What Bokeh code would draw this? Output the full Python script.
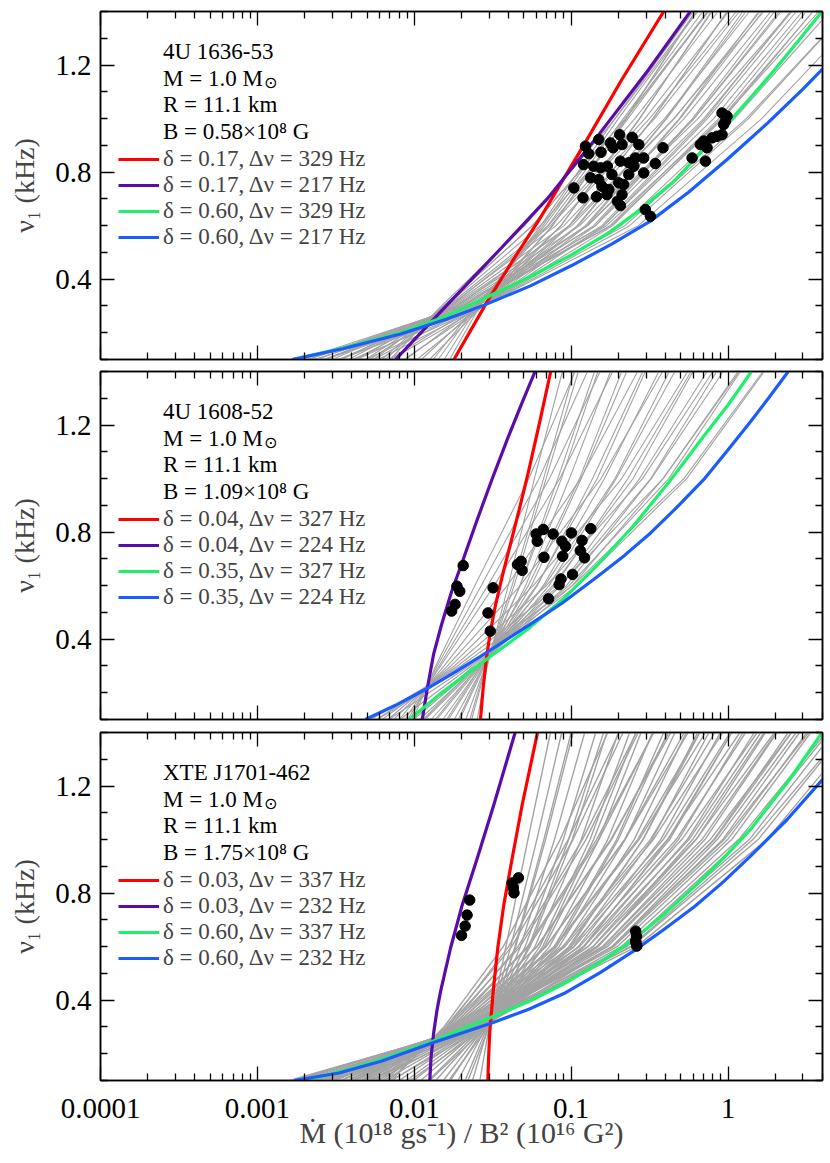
from bokeh.plotting import figure
from bokeh.models import (Range1d, FixedTicker, LinearAxis, LogAxis, Label, Legend,
                          LegendItem, CustomJSTickFormatter)
from bokeh.layouts import column
from bokeh.embed import file_html
from bokeh.resources import INLINE

# ---------------- axes / ticks ----------------
X_RANGE = (1e-4, 4.0)
Y_RANGE = (0.1, 1.4)
X_TICKS = [0.0001, 0.001, 0.01, 0.1, 1.0]
X_MINOR_TICKS = [0.0002, 0.0003, 0.0004, 0.0005, 0.0006, 0.0007, 0.0008, 0.0009,
                 0.002, 0.003, 0.004, 0.005, 0.006, 0.007, 0.008, 0.009,
                 0.02, 0.03, 0.04, 0.05, 0.06, 0.07, 0.08, 0.09,
                 0.2, 0.3, 0.4, 0.5, 0.6, 0.7, 0.8, 0.9, 2.0, 3.0, 4.0]
Y_TICKS = [0.4, 0.8, 1.2]
Y_MINOR_TICKS = [0.1, 0.2, 0.3, 0.5, 0.6, 0.7, 0.9, 1.0, 1.1, 1.3, 1.4]
X_LABEL = "Ṁ (10¹⁸ gs⁻¹) / B² (10¹⁶ G²)"
Y_LABEL = "ν₁ (kHz)"

# ---------------- panel 1 : 4U 1636-53 ----------------
P1_INFO = ["4U 1636-53", "M = 1.0 M", "R = 11.1 km", "B = 0.58×10⁸ G"]
P1_LEGEND = ["δ = 0.17, Δν = 329 Hz", "δ = 0.17, Δν = 217 Hz",
             "δ = 0.60, Δν = 329 Hz", "δ = 0.60, Δν = 217 Hz"]
RED1_X = [0.0179, 0.0294, 0.0430, 0.0637, 0.120, 0.21, 0.389]
RED1_Y = [0.10, 0.32, 0.475, 0.63, 0.90, 1.145, 1.40]
PUR1_X = [0.0076, 0.0172, 0.0350, 0.0703, 0.150, 0.300, 0.575]
PUR1_Y = [0.10, 0.32, 0.51, 0.70, 0.94, 1.17, 1.40]
GRN1_X = [0.00167, 0.0035, 0.0082, 0.016, 0.0299, 0.055, 0.100, 0.17, 0.276, 0.45,
          0.70, 1.06, 1.5, 2.0, 2.8, 3.97]
GRN1_Y = [0.100, 0.143, 0.200, 0.262, 0.336, 0.410, 0.490, 0.570, 0.660, 0.765,
          0.884, 1.000, 1.100, 1.185, 1.29, 1.40]
BLU1_X = [0.00167, 0.0035, 0.0082, 0.016, 0.0284, 0.055, 0.100, 0.18, 0.32, 0.56,
          0.986, 1.8, 3.0, 4.0]
BLU1_Y = [0.100, 0.140, 0.195, 0.250, 0.305, 0.375, 0.450, 0.530, 0.617, 0.725,
          0.847, 0.985, 1.110, 1.185]
DOT1_X = [0.1233, 0.150, 0.1294, 0.155, 0.204, 0.245, 0.178, 0.185, 0.211, 0.270, 0.385,
          0.120, 0.139, 0.154, 0.170, 0.206, 0.233, 0.257, 0.290, 0.251, 0.344,
          0.133, 0.150, 0.182, 0.233, 0.290, 0.104, 0.157, 0.174, 0.201, 0.216,
          0.119, 0.145, 0.169, 0.211, 0.197, 0.206, 0.297, 0.320,
          0.590, 0.717, 0.666, 0.700, 0.735, 0.791, 0.851, 0.916, 0.938, 0.916, 0.985, 0.962]
DOT1_Y = [0.897, 0.922, 0.869, 0.874, 0.940, 0.930, 0.909, 0.891, 0.903, 0.903, 0.891,
          0.828, 0.822, 0.816, 0.822, 0.841, 0.835, 0.853, 0.853, 0.822, 0.832,
          0.779, 0.772, 0.791, 0.791, 0.797, 0.741, 0.747, 0.735, 0.760, 0.754,
          0.704, 0.708, 0.716, 0.716, 0.691, 0.675, 0.660, 0.635,
          0.853, 0.841, 0.903, 0.916, 0.891, 0.928, 0.934, 0.940, 0.978, 1.021, 1.009, 0.990]

# grey model curves: x read at the frequency levels GREY_NU
GREY_NU = [0.1, 0.3, 0.6, 1.0, 1.4]
GREY1_X = [
    [0.0125, 0.0273, 0.0760, 0.223, 0.618], [0.0104, 0.0274, 0.0861, 0.272, 0.791],
    [0.0086, 0.0274, 0.0977, 0.332, 0.989], [0.0071, 0.0274, 0.111, 0.406, 1.30],
    [0.0059, 0.0274, 0.126, 0.495, 1.66], [0.0049, 0.0274, 0.143, 0.605, 2.12],
    [0.0040, 0.0274, 0.162, 0.740, 2.72], [0.0033, 0.0274, 0.184, 0.902, 3.48],
    [0.0027, 0.0274, 0.208, 1.10, 4.45], [0.0023, 0.0275, 0.236, 1.35, 5.70],
    [0.0019, 0.0275, 0.268, 1.64, 7.29],
    [0.0070, 0.0149, 0.0505, 0.191, 0.634], [0.0062, 0.0153, 0.0568, 0.221, 0.740],
    [0.0055, 0.0158, 0.0637, 0.255, 0.863], [0.0049, 0.0163, 0.0715, 0.295, 1.01],
    [0.0043, 0.0167, 0.0802, 0.340, 1.18], [0.0038, 0.0173, 0.090, 0.394, 1.37],
    [0.0034, 0.0178, 0.101, 0.454, 1.60], [0.0030, 0.0183, 0.1135, 0.525, 1.87],
    [0.0027, 0.0189, 0.127, 0.607, 2.18], [0.0024, 0.0195, 0.143, 0.700, 2.55],
    [0.0021, 0.0200, 0.161, 0.809, 2.97], [0.0019, 0.0207, 0.180, 0.933, 3.47],
    [0.0111, 0.0259, 0.0762, 0.225, 0.619], [0.0088, 0.0253, 0.0861, 0.274, 0.781],
    [0.0069, 0.0247, 0.0970, 0.332, 0.985], [0.0055, 0.0240, 0.1094, 0.403, 1.243],
    [0.0043, 0.0234, 0.1233, 0.489, 1.567], [0.0034, 0.0229, 0.139, 0.593, 1.977],
    [0.0027, 0.0223, 0.157, 0.719, 2.49], [0.0021, 0.0217, 0.177, 0.873, 3.15],
    [0.0168, 0.0262, 0.064, 0.19, 0.60], [0.0155, 0.0255, 0.066, 0.20, 0.64],
    [0.0142, 0.0250, 0.068, 0.215, 0.69], [0.0132, 0.0246, 0.071, 0.23, 0.74],
    [0.00653, 0.01552, 0.0564, 0.222, 0.753], [0.0052, 0.0171, 0.074, 0.316, 1.13],
    [0.00415, 0.0188, 0.0973, 0.451, 1.69], [0.0033, 0.02065, 0.1276, 0.643, 2.53],
    [0.00263, 0.0227, 0.168, 0.916, 3.79], [0.0021, 0.025, 0.220, 1.306, 5.69],
]

# ---------------- panel 2 : 4U 1608-52 ----------------
P2_INFO = ["4U 1608-52", "M = 1.0 M", "R = 11.1 km", "B = 1.09×10⁸ G"]
P2_LEGEND = ["δ = 0.04, Δν = 327 Hz", "δ = 0.04, Δν = 224 Hz",
             "δ = 0.35, Δν = 327 Hz", "δ = 0.35, Δν = 224 Hz"]
RED2_X = [0.02642, 0.02748, 0.02884, 0.03055, 0.03296, 0.03656, 0.04093, 0.04634,
          0.05346, 0.0631, 0.0741]
RED2_Y = [0.10, 0.217, 0.329, 0.429, 0.528, 0.640, 0.753, 0.877, 1.026, 1.213, 1.40]
PUR2_X = [0.01125, 0.01211, 0.01327, 0.01493, 0.01730, 0.01995, 0.02495, 0.03148,
          0.03945, 0.04809, 0.05888]
PUR2_Y = [0.10, 0.217, 0.343, 0.455, 0.578, 0.678, 0.840, 1.001, 1.151, 1.276, 1.40]
GRN2_X = [0.00931, 0.01443, 0.0207, 0.0313, 0.0526, 0.0883, 0.148, 0.248, 0.417,
          0.699, 1.0, 1.41]
GRN2_Y = [0.10, 0.193, 0.262, 0.340, 0.436, 0.548, 0.679, 0.822, 0.984, 1.158, 1.275, 1.40]
BLU2_X = [0.00488, 0.00759, 0.01175, 0.01862, 0.0298, 0.0526, 0.0883, 0.148, 0.2188,
          0.321, 0.473, 0.699, 0.977, 1.37, 1.82, 2.42]
BLU2_Y = [0.10, 0.153, 0.212, 0.281, 0.355, 0.449, 0.536, 0.635, 0.713, 0.797, 0.893,
          0.996, 1.100, 1.208, 1.302, 1.40]
DOT2_X = [0.0205, 0.0187, 0.0195, 0.0182, 0.0173, 0.0318, 0.0295, 0.0305, 0.0455, 0.0480,
          0.0487, 0.0598, 0.0664, 0.0608, 0.0767, 0.1004, 0.1334, 0.0873, 0.0920, 0.1173,
          0.1143, 0.0883, 0.0671, 0.1216, 0.1020, 0.0861, 0.0838, 0.0718]
DOT2_Y = [0.675, 0.598, 0.579, 0.530, 0.505, 0.592, 0.498, 0.430, 0.679, 0.691,
          0.657, 0.793, 0.810, 0.766, 0.793, 0.797, 0.813, 0.766, 0.747, 0.769,
          0.731, 0.710, 0.706, 0.704, 0.642, 0.625, 0.604, 0.551]
GREY2_X = [
    [0.0252, 0.0292, 0.0397, 0.0583, 0.0879], [0.0232, 0.0288, 0.0433, 0.0692, 0.111],
    [0.0213, 0.0284, 0.0471, 0.0822, 0.141], [0.0195, 0.0280, 0.0513, 0.0975, 0.178],
    [0.0180, 0.0276, 0.0558, 0.116, 0.226], [0.0165, 0.0272, 0.0608, 0.137, 0.286],
    [0.0152, 0.0268, 0.0664, 0.163, 0.362], [0.0139, 0.0264, 0.0723, 0.194, 0.458],
    [0.0128, 0.0261, 0.0787, 0.230, 0.581], [0.0117, 0.0257, 0.0857, 0.273, 0.735],
    [0.0108, 0.0254, 0.0933, 0.324, 0.931], [0.0099, 0.0250, 0.1016, 0.385, 1.18],
    [0.0098, 0.0137, 0.0243, 0.0538, 0.106], [0.0094, 0.0140, 0.0267, 0.0625, 0.127],
    [0.0091, 0.0144, 0.0294, 0.0728, 0.153], [0.0087, 0.0147, 0.0323, 0.0847, 0.184],
    [0.0080, 0.0155, 0.0391, 0.115, 0.265], [0.0074, 0.0163, 0.0473, 0.155, 0.383],
    [0.0068, 0.0171, 0.0574, 0.210, 0.553], [0.00625, 0.0180, 0.0695, 0.285, 0.80],
    [0.00575, 0.0189, 0.0841, 0.386, 1.156], [0.0053, 0.0198, 0.102, 0.523, 1.67],
    [0.0226, 0.0285, 0.0420, 0.0667, 0.1045], [0.0191, 0.0275, 0.0473, 0.0867, 0.148],
    [0.0161, 0.0266, 0.0533, 0.113, 0.210], [0.0136, 0.0257, 0.0601, 0.1466, 0.297],
    [0.0114, 0.0248, 0.0678, 0.1905, 0.422], [0.0096, 0.0239, 0.0764, 0.248, 0.598],
    [0.0081, 0.0231, 0.0861, 0.322, 0.847], [0.0069, 0.0223, 0.0970, 0.419, 1.20],
    [0.0058, 0.0216, 0.1094, 0.545, 1.70],
]

# ---------------- panel 3 : XTE J1701-462 ----------------
P3_INFO = ["XTE J1701-462", "M = 1.0 M", "R = 11.1 km", "B = 1.75×10⁸ G"]
P3_LEGEND = ["δ = 0.03, Δν = 337 Hz", "δ = 0.03, Δν = 232 Hz",
             "δ = 0.60, Δν = 337 Hz", "δ = 0.60, Δν = 232 Hz"]
RED3_X = [0.02944, 0.02979, 0.0303, 0.03184, 0.03404, 0.0372, 0.04208, 0.04874, 0.06124]
RED3_Y = [0.10, 0.19, 0.283, 0.432, 0.594, 0.756, 0.930, 1.130, 1.404]
PUR3_X = [0.01256, 0.0128, 0.01333, 0.01393, 0.0147, 0.01702, 0.02022, 0.0252, 0.03215, 0.04416]
PUR3_Y = [0.10, 0.19, 0.283, 0.36, 0.432, 0.594, 0.756, 0.930, 1.130, 1.404]
GRN3_X = [0.00197, 0.00355, 0.00615, 0.01313, 0.0321, 0.055, 0.0922, 0.1549, 0.258,
          0.398, 0.615, 0.933, 1.39, 2.38, 3.98]
GRN3_Y = [0.10, 0.136, 0.178, 0.247, 0.340, 0.398, 0.465, 0.543, 0.633, 0.725, 0.826,
          0.930, 1.038, 1.212, 1.40]
BLU3_X = [0.00172, 0.00331, 0.00615, 0.01313, 0.0312, 0.0537, 0.0922, 0.1549, 0.258,
          0.398, 0.615, 0.933, 1.39, 2.38, 4.0]
BLU3_Y = [0.10, 0.128, 0.172, 0.241, 0.315, 0.366, 0.428, 0.505, 0.589, 0.668, 0.751,
          0.842, 0.938, 1.075, 1.224]
DOT3_X = [0.02255, 0.0217, 0.0211, 0.0200, 0.0461, 0.0421, 0.0432, 0.0428,
          0.258, 0.261, 0.258, 0.262, 0.259]
DOT3_Y = [0.774, 0.718, 0.677, 0.642, 0.857, 0.838, 0.801, 0.820,
          0.658, 0.639, 0.621, 0.602, 0.614]
GREY3_X = [
    [0.0262, 0.0300, 0.0384, 0.053, 0.0738], [0.0235, 0.0296, 0.0412, 0.0604, 0.0871],
    [0.0211, 0.0292, 0.0443, 0.0687, 0.103], [0.0190, 0.0288, 0.0475, 0.0783, 0.122],
    [0.0170, 0.0284, 0.0509, 0.0891, 0.1435], [0.0153, 0.0281, 0.0547, 0.1016, 0.169],
    [0.0137, 0.0277, 0.0587, 0.116, 0.200], [0.0123, 0.0274, 0.0631, 0.132, 0.236],
    [0.0110, 0.0270, 0.0677, 0.150, 0.279], [0.0099, 0.0267, 0.0727, 0.171, 0.330],
    [0.0089, 0.0263, 0.0780, 0.195, 0.389], [0.0080, 0.0259, 0.0838, 0.221, 0.459],
    [0.0072, 0.0256, 0.0900, 0.252, 0.542], [0.0064, 0.0253, 0.0966, 0.287, 0.640],
    [0.0058, 0.0249, 0.1037, 0.327, 0.755], [0.0052, 0.0246, 0.1112, 0.372, 0.893],
    [0.0047, 0.0243, 0.1194, 0.424, 1.054], [0.0042, 0.0240, 0.128, 0.483, 1.245],
    [0.0038, 0.0237, 0.1377, 0.550, 1.469], [0.0034, 0.0234, 0.148, 0.627, 1.734],
    [0.0030, 0.0231, 0.159, 0.713, 2.05], [0.0027, 0.0228, 0.170, 0.812, 2.42],
    [0.0024, 0.0225, 0.183, 0.925, 2.86], [0.0022, 0.0222, 0.196, 1.054, 3.37],
    [0.0018, 0.0228, 0.226, 1.365, 4.70], [0.0017, 0.0236, 0.243, 1.556, 5.55],
    [0.0016, 0.0245, 0.261, 1.77, 6.55],
    [0.00687, 0.0163, 0.0399, 0.0957, 0.202], [0.00622, 0.01687, 0.0458, 0.1178, 0.2606],
    [0.00564, 0.01746, 0.0526, 0.1452, 0.3357], [0.0051, 0.01803, 0.0604, 0.1786, 0.4325],
    [0.00462, 0.01866, 0.0692, 0.2203, 0.557], [0.00419, 0.0193, 0.0794, 0.271, 0.718],
    [0.00379, 0.01995, 0.0912, 0.334, 0.925], [0.00344, 0.02065, 0.1047, 0.411, 1.19],
    [0.00311, 0.02138, 0.1202, 0.507, 1.535], [0.00282, 0.02208, 0.1377, 0.624, 1.977],
    [0.00256, 0.02286, 0.158, 0.769, 2.54], [0.00232, 0.02366, 0.1816, 0.946, 3.27],
    [0.0021, 0.0245, 0.2084, 1.167, 4.22], [0.0019, 0.0253, 0.2388, 1.439, 5.43],
    [0.0220, 0.0299, 0.0438, 0.067, 0.100], [0.0166, 0.0295, 0.0537, 0.0964, 0.161],
    [0.0125, 0.0290, 0.0658, 0.139, 0.258], [0.0094, 0.0286, 0.0807, 0.1995, 0.413],
    [0.0071, 0.0282, 0.0989, 0.287, 0.661], [0.0053, 0.0278, 0.1213, 0.413, 1.059],
    [0.0040, 0.0274, 0.1486, 0.594, 1.70], [0.0030, 0.0270, 0.1824, 0.855, 2.72],
    [0.0023, 0.0265, 0.2234, 1.23, 4.37],
    [0.00714, 0.01545, 0.0369, 0.0851, 0.171], [0.00652, 0.01585, 0.0418, 0.1028, 0.2143],
    [0.00594, 0.01622, 0.0473, 0.1242, 0.268], [0.00542, 0.01663, 0.0536, 0.150, 0.336],
    [0.00494, 0.01706, 0.0607, 0.181, 0.420], [0.00451, 0.0175, 0.0689, 0.219, 0.526],
    [0.00411, 0.01795, 0.078, 0.265, 0.659], [0.00375, 0.01837, 0.0883, 0.320, 0.824],
    [0.00342, 0.01884, 0.100, 0.386, 1.033], [0.00312, 0.01932, 0.1132, 0.467, 1.294],
    [0.00284, 0.01982, 0.1282, 0.564, 1.618], [0.00259, 0.02032, 0.1452, 0.681, 2.03],
    [0.00237, 0.0208, 0.1644, 0.822, 2.54], [0.00216, 0.02133, 0.1862, 0.993, 3.18],
]

# ---------------- styling ----------------
FONT = "Liberation Serif"
GREY = "#a3a3a3"
COLORS = ["#ff0000", "#5a0ca8", "#1ff06c", "#1a5cff"]
FRAME_W, FRAME_H = 722, 348


def style_axis(ax, show_labels):
    ax.major_tick_in = 14
    ax.major_tick_out = 0
    ax.minor_tick_in = 7
    ax.minor_tick_out = 0
    ax.major_tick_line_width = 1.3
    ax.minor_tick_line_width = 1.3
    ax.axis_line_width = 1.5
    ax.axis_line_color = "black"
    if show_labels:
        ax.major_label_text_font = FONT
        ax.major_label_text_font_size = "29px"
        ax.major_label_text_color = "black"
    else:
        ax.formatter = CustomJSTickFormatter(code="return '';")
        ax.major_label_standoff = 0


def make_panel(info, legend_labels, curves, dots, grey_rows, grey_width,
               border_top, border_bottom, show_x):
    p = figure(x_axis_type="log", x_range=Range1d(*X_RANGE), y_range=Range1d(*Y_RANGE),
               frame_width=FRAME_W, frame_height=FRAME_H, output_backend="svg",
               toolbar_location=None, min_border_left=100, min_border_right=6,
               min_border_top=border_top, min_border_bottom=border_bottom)
    p.xgrid.visible = False
    p.ygrid.visible = False
    p.outline_line_color = "black"
    p.outline_line_width = 1.5
    p.background_fill_color = "white"

    # axes
    xt = FixedTicker(ticks=X_TICKS, minor_ticks=X_MINOR_TICKS)
    yt = FixedTicker(ticks=Y_TICKS, minor_ticks=Y_MINOR_TICKS)
    xb = p.xaxis[0]
    xb.ticker = xt
    xb.formatter = CustomJSTickFormatter(code="return String(tick);")
    style_axis(xb, show_x)
    if show_x:
        xb.major_label_standoff = 18
        xb.axis_label = X_LABEL
        xb.axis_label_text_font = FONT
        xb.axis_label_text_font_size = "30px"
        xb.axis_label_text_font_style = "normal"
        xb.axis_label_standoff = -5
    yl = p.yaxis[0]
    yl.ticker = yt
    style_axis(yl, True)
    yl.major_label_standoff = 9
    yl.axis_label = Y_LABEL
    yl.axis_label_text_font = FONT
    yl.axis_label_text_font_size = "28px"
    yl.axis_label_text_font_style = "normal"
    yl.axis_label_standoff = 12
    top = LogAxis(ticker=xt)
    style_axis(top, False)
    p.add_layout(top, "above")
    right = LinearAxis(ticker=yt)
    style_axis(right, False)
    p.add_layout(right, "right")

    # grey family of model curves
    p.multi_line(xs=grey_rows, ys=[GREY_NU] * len(grey_rows), line_color=GREY,
                 line_width=grey_width)

    # coloured curves
    renderers = []
    for (cx, cy), col in zip(curves, COLORS):
        r = p.line(cx, cy, line_color=col, line_width=3.2, line_join="round")
        renderers.append(r)

    # observed points
    p.scatter(dots[0], dots[1], size=10.5, color="black")

    # legend
    items = [LegendItem(label=lab, renderers=[r]) for lab, r in zip(legend_labels, renderers)]
    legend = Legend(items=items, location=(18, 109), orientation="vertical",
                    label_text_font=FONT, label_text_font_size="23px",
                    glyph_width=41, glyph_height=24, label_height=24,
                    spacing=0, padding=0, margin=0, label_standoff=4,
                    border_line_color=None, background_fill_alpha=0)
    p.add_layout(legend)

    # info text
    baselines = [308, 281.3, 254.6, 228]
    for txt, yb in zip(info, baselines):
        p.add_layout(Label(x=62.5, y=yb, x_units="screen", y_units="screen", text=txt,
                           text_font=FONT, text_font_size="23px", text_color="black",
                           text_baseline="alphabetic", text_align="left"))
    p.add_layout(Label(x=163.5, y=baselines[1] - 4, x_units="screen", y_units="screen",
                       text="⊙", text_font="DejaVu Sans", text_font_size="16px",
                       text_color="black", text_baseline="alphabetic", text_align="left"))
    return p


p1 = make_panel(P1_INFO, P1_LEGEND,
                [(RED1_X, RED1_Y), (PUR1_X, PUR1_Y), (GRN1_X, GRN1_Y), (BLU1_X, BLU1_Y)],
                (DOT1_X, DOT1_Y), GREY1_X, 1.1, 11, 4, False)
p2 = make_panel(P2_INFO, P2_LEGEND,
                [(RED2_X, RED2_Y), (PUR2_X, PUR2_Y), (GRN2_X, GRN2_Y), (BLU2_X, BLU2_Y)],
                (DOT2_X, DOT2_Y), GREY2_X, 1.1, 8, 4, False)
p3 = make_panel(P3_INFO, P3_LEGEND,
                [(RED3_X, RED3_Y), (PUR3_X, PUR3_Y), (GRN3_X, GRN3_Y), (BLU3_X, BLU3_Y)],
                (DOT3_X, DOT3_Y), GREY3_X, 1.4, 9, 80, True)

layout = column(p1, p2, p3, spacing=0)
open("out.html", "w").write(file_html(layout, INLINE))
